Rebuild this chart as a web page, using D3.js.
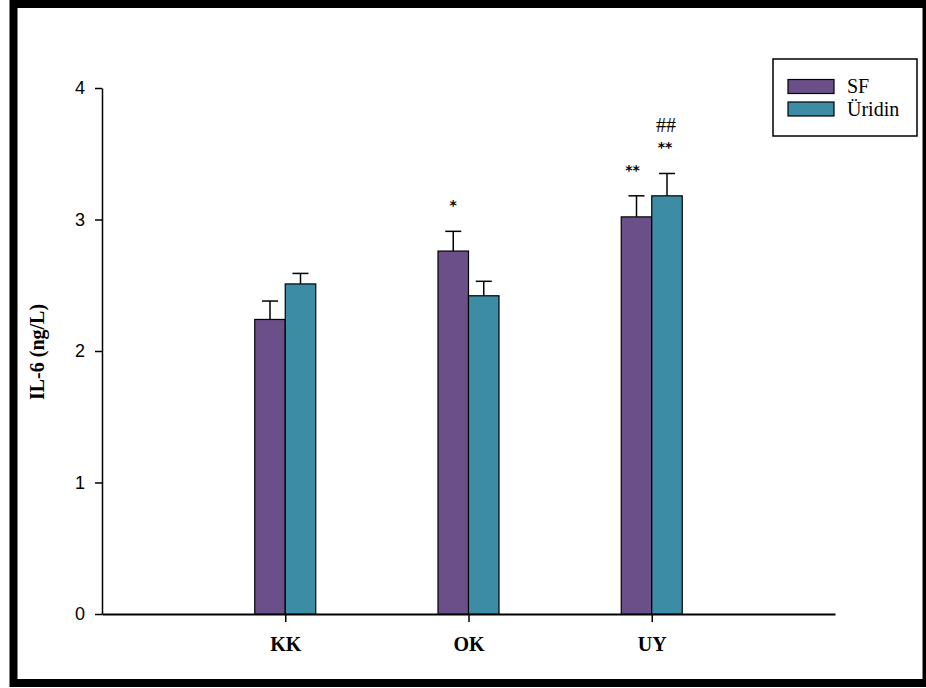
<!DOCTYPE html>
<html><head><meta charset="utf-8">
<script src="https://cdn.jsdelivr.net/npm/d3@7"></script>
<style>body{margin:0;background:#fff}svg{display:block}</style>
</head><body><svg id="c" width="926" height="688"></svg>
<script>
const categories = ["KK", "OK", "UY"];
const seriesNames = ["SF", "Üridin"];
const sfValues = [2.24, 2.76, 3.02];
const sfErrors = [0.14, 0.15, 0.16];
const uridinValues = [2.51, 2.42, 3.18];
const uridinErrors = [0.08, 0.11, 0.17];
const sfMarks = ["", "*", "**"];
const uridinMarks = ["", "", "**"];
const uridinMarks2 = ["", "", "##"];
const yTicks = [0, 1, 2, 3, 4];
const colors = ["#6a4f88", "#3b8ca4"];

const svg = d3.select("#c");
svg.append("rect").attr("x",13.5).attr("y",4).attr("width",913).attr("height",679)
  .attr("fill","#fff").attr("stroke","#000").attr("stroke-width",8);

const y = d3.scaleLinear().domain([0,4]).range([614,88]);
const x = d3.scalePoint().domain(["", ...categories, " "]).range([102,835]);
const bw = 30.5;

const serif = "'Liberation Serif','Times New Roman',serif";
const sans = "'Liberation Sans',Arial,sans-serif";

// y axis
const ya = svg.append("g").attr("transform","translate(102,0)")
  .call(d3.axisLeft(y).tickValues(yTicks).tickFormat(d3.format("d")).tickSize(7).tickSizeOuter(0));
ya.select(".domain").attr("stroke","#000").attr("stroke-width",1.5);
ya.selectAll(".tick line").attr("stroke-width",1.5);
ya.selectAll(".tick text").attr("font-family",sans).attr("font-size",18).attr("fill","#000").attr("x",-17);

// x axis
const xa = svg.append("g").attr("transform","translate(0,614)")
  .call(d3.axisBottom(x).tickValues(categories).tickSize(8).tickSizeOuter(0));
xa.select(".domain").attr("stroke","#000").attr("stroke-width",2);
xa.selectAll(".tick line").attr("stroke-width",1.5);
xa.selectAll(".tick text").attr("font-family",serif).attr("font-weight","bold")
  .attr("font-size",20).attr("fill","#000").attr("y",23);

// axis title
svg.append("text").attr("transform","translate(44,352) rotate(-90)")
  .attr("text-anchor","middle").attr("font-family",serif).attr("font-weight","bold")
  .attr("font-size",20).text("IL-6 (ng/L)");

const series = [
  {vals: sfValues, errs: sfErrors, off: -bw},
  {vals: uridinValues, errs: uridinErrors, off: 0}
];
const g = svg.append("g");
series.forEach((s,si)=>{
  categories.forEach((c,i)=>{
    const x0 = x(c)+s.off;
    const xc = x0+bw/2;
    const top = y(s.vals[i] + s.errs[i]);
    g.append("line").attr("x1",xc).attr("x2",xc).attr("y1",y(s.vals[i])).attr("y2",top)
      .attr("stroke","#000").attr("stroke-width",1.5);
    g.append("line").attr("x1",xc-8).attr("x2",xc+8).attr("y1",top).attr("y2",top)
      .attr("stroke","#000").attr("stroke-width",1.5);
    g.append("rect").attr("x",x0).attr("y",y(s.vals[i])).attr("width",bw)
      .attr("height",y(0)-y(s.vals[i])).attr("fill",colors[si])
      .attr("stroke","#000").attr("stroke-width",1.2);
  });
});

// significance marks
const markFont = "'DejaVu Sans',sans-serif";
categories.forEach((c,i)=>{
  if (sfMarks[i]) svg.append("text").attr("x",x(c)-bw/2-(sfMarks[i].length>1?4:0))
    .attr("y",y(sfValues[i]+sfErrors[i])-21).attr("text-anchor","middle")
    .attr("font-family",markFont).attr("font-weight","bold").attr("font-size",14).attr("fill","#000").text(sfMarks[i]);
  if (uridinMarks[i]) svg.append("text").attr("x",x(c)+bw/2-2)
    .attr("y",y(uridinValues[i]+uridinErrors[i])-21).attr("text-anchor","middle")
    .attr("font-family",markFont).attr("font-weight","bold").attr("font-size",14).attr("fill","#000").text(uridinMarks[i]);
  if (uridinMarks2[i]) svg.append("text").attr("x",x(c)+bw/2-1)
    .attr("y",y(uridinValues[i]+uridinErrors[i])-41).attr("text-anchor","middle")
    .attr("font-family",serif).attr("font-size",20).attr("fill","#000").text(uridinMarks2[i]);
});

// legend
const lg = svg.append("g");
lg.append("rect").attr("x",773).attr("y",59).attr("width",144).attr("height",77)
  .attr("fill","#fff").attr("stroke","#000").attr("stroke-width",1.5);
seriesNames.forEach((n,i)=>{
  lg.append("rect").attr("x",788).attr("y",79.5+i*22.5).attr("width",46).attr("height",14)
    .attr("fill",colors[i]).attr("stroke","#000").attr("stroke-width",1.2);
  lg.append("text").attr("x",847).attr("y",93+i*22.5).attr("font-family",serif)
    .attr("font-size",20).attr("fill","#000").text(n);
});
</script></body></html>
